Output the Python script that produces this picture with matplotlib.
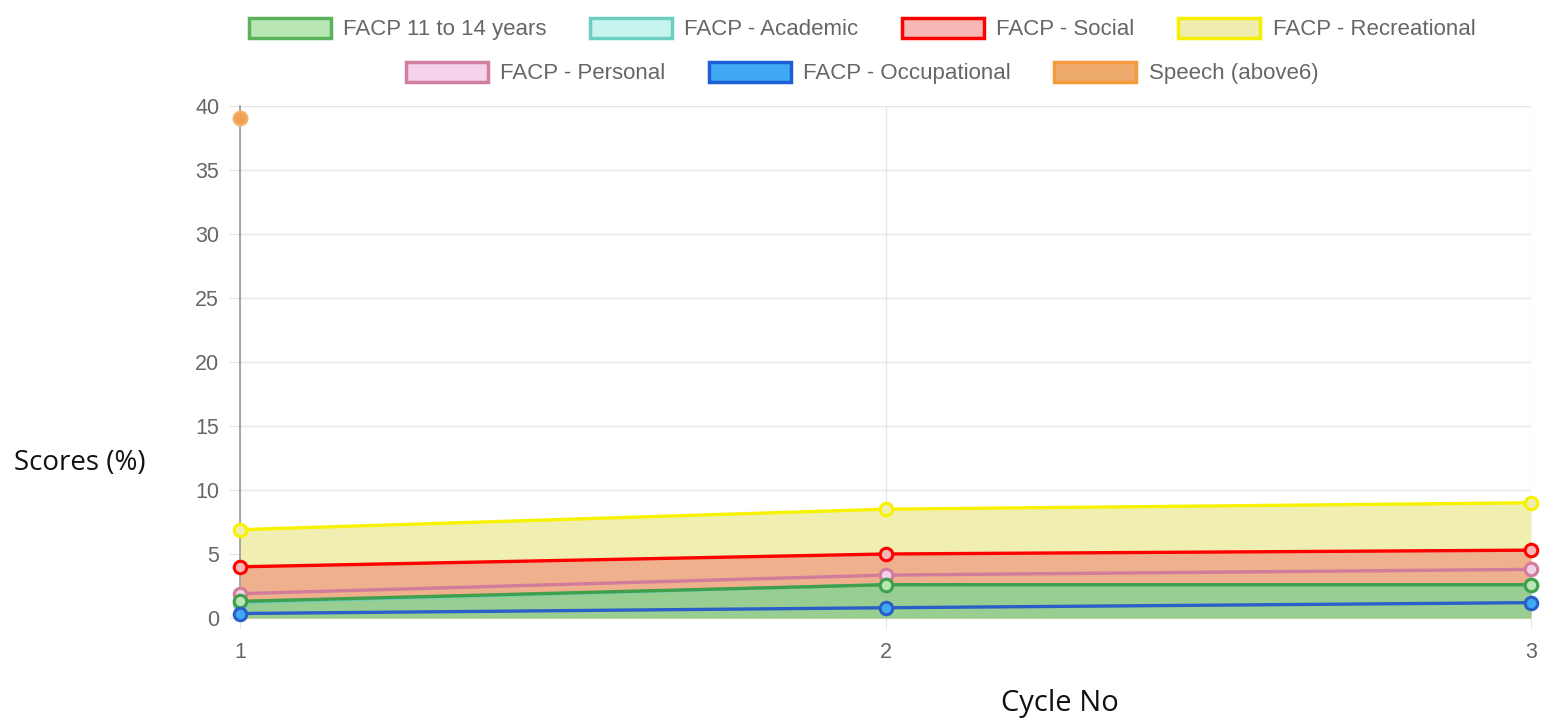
import matplotlib.pyplot as plt
from matplotlib.patches import Patch

cycles = [1, 2, 3]
facp_11_14 = [1.3, 2.6, 2.6]
academic = [1.2, 2.6, 2.6]
social = [4.0, 5.0, 5.3]
recreational = [6.9, 8.5, 9.0]
personal = [1.9, 3.35, 3.8]
occupational = [0.35, 0.8, 1.2]
speech_x = [1]
speech = [39.1]

labels_row1 = ['FACP 11 to 14 years', 'FACP - Academic', 'FACP - Social', 'FACP - Recreational']
labels_row2 = ['FACP - Personal', 'FACP - Occupational', 'Speech (above6)']

plt.rcParams['font.family'] = ['Liberation Sans', 'DejaVu Sans']

fig = plt.figure(figsize=(15.42, 7.26), dpi=100)
ax = fig.add_axes([240/1542, 1-618/726, (1531-240)/1542, (618-106)/726])

# area fills (composite colours as they appear)
ax.fill_between(cycles, recreational, 0, color='#f0eeb0', lw=0, zorder=1)
ax.fill_between(cycles, social, 0, color='#efb08d', lw=0, zorder=1)
ax.fill_between(cycles, facp_11_14, 0, color='#99ce93', lw=0, zorder=1)

# lines, bottom-most dataset drawn first
series = [
    (recreational, '#f7f200', '#efedb0'),
    (social, '#ff0000', '#f6b7b5'),
    (personal, '#d27b9b', '#f4d2ea'),
    (academic, '#6bcfc0', '#c8f4ee'),
    (facp_11_14, '#3f9f4a', '#b8e6b4'),
    (occupational, '#2a5fc8', '#3fa9f5'),
]
for vals, lc, fc in series:
    ax.plot(cycles, vals, '-o', color=lc, lw=2.4, ms=9, mfc=fc, mec=lc, mew=2.2,
            zorder=3, clip_on=False)

ax.plot(speech_x, speech, 'o', color='#f0a050', ms=10, mec='#f6b070', mew=1.5, zorder=4, clip_on=False)

ax.set_xlim(1, 3)
ax.set_ylim(0, 40)
ax.set_xticks(cycles)
ax.set_yticks(range(0, 41, 5))
ax.grid(True, color='#e6e6e6', lw=1)
ax.set_axisbelow(True)
for s in ['top', 'right', 'bottom']:
    ax.spines[s].set_visible(False)
ax.spines['left'].set_color('#999999')
ax.spines['left'].set_linewidth(1.2)
ax.tick_params(axis='both', colors='#e6e6e6', labelcolor='#666666', labelsize=15.5, length=8)
ax.tick_params(axis='y', pad=7)
ax.tick_params(axis='x', pad=9)

fig.text(80/1542, 1-463/726, 'Scores (%)', ha='center', va='center', fontsize=20,
         family=['Open Sans', 'DejaVu Sans'], color='#111111')
fig.text(1060/1542, 1-704/726, 'Cycle No', ha='center', va='center', fontsize=21,
         family=['Open Sans', 'DejaVu Sans'], color='#111111')

face = ['#b8e6b4', '#c8f4ee', '#f6b7b5', '#efedb0', '#f4d2ea', '#3fa9f5', '#efaa6e']
edge = ['#5db35d', '#6bcfc0', '#ff0000', '#f5f000', '#d07fa0', '#1e5fd6', '#f59a3a']
handles = [Patch(facecolor=f, edgecolor=e, lw=2.5) for f, e in zip(face, edge)]

leg_kw = dict(frameon=False, fontsize=16, handlelength=3.7, handleheight=1.0,
              handletextpad=0.55, columnspacing=1.95, labelcolor='#666666')
fig.legend(handles[:4], labels_row1, ncol=4, loc='center', bbox_to_anchor=(862/1542, 1-29/726), **leg_kw)
fig.legend(handles[4:], labels_row2, ncol=3, loc='center', bbox_to_anchor=(862/1542, 1-73/726), **leg_kw)

fig.savefig('out.png', dpi=100)
